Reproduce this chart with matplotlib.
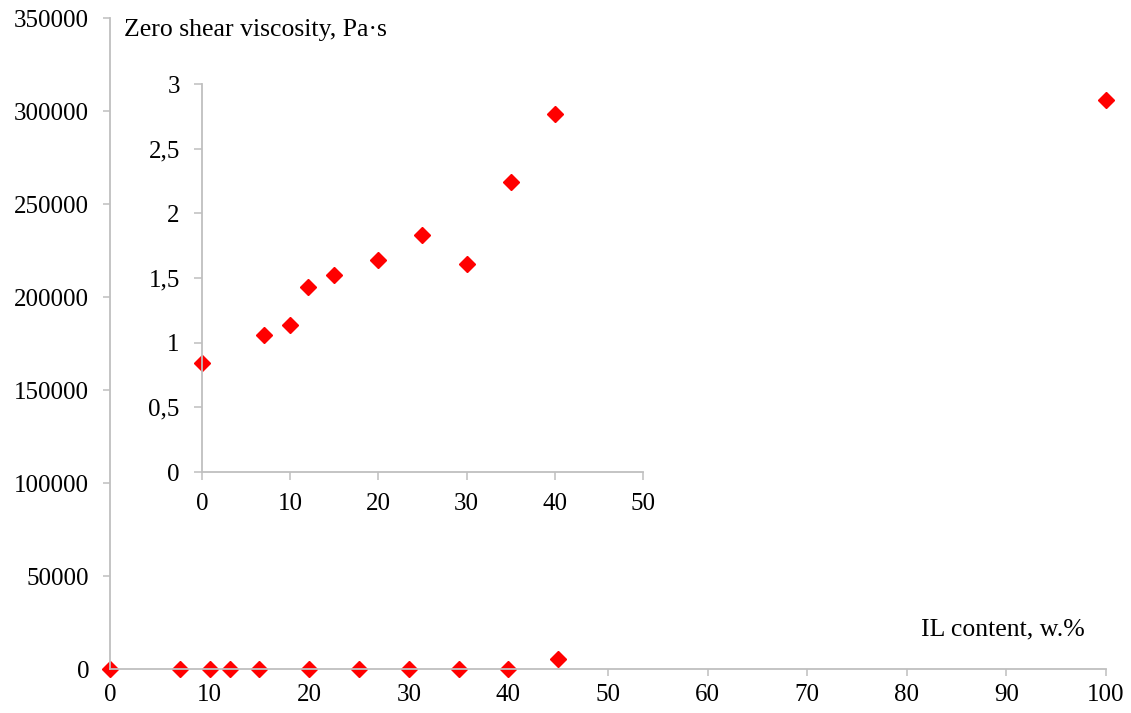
import numpy as np
import matplotlib
matplotlib.use("Agg")
import matplotlib.pyplot as plt
from matplotlib.ticker import FuncFormatter

plt.rcParams["font.family"] = ["Liberation Serif", "DejaVu Serif"]

# data
il_content = [0, 7, 10, 12, 15, 20, 25, 30, 35, 40, 45, 100]
viscosity = [0.84, 1.06, 1.14, 1.43, 1.52, 1.64, 1.83, 1.61, 2.24, 2.77, 5500, 306000]

inset_x = il_content[:10]
inset_y = viscosity[:10]

main_xticks = list(range(0, 101, 10))
main_yticks = list(range(0, 350001, 50000))
inset_xticks = [0, 10, 20, 30, 40, 50]
inset_yticks = [0, 0.5, 1, 1.5, 2, 2.5, 3]

axis_grey = "#bfbfbf"
marker_red = "#ff0000"

fig = plt.figure(figsize=(11.31, 7.13), dpi=100)
ax = fig.add_axes([0.0973, 0.0617, 0.8806, 0.913])


def style_axes(a, xpad, ypad, ticklen):
    for side in ["top", "right"]:
        a.spines[side].set_visible(False)
    for side in ["left", "bottom"]:
        a.spines[side].set_color(axis_grey)
        a.spines[side].set_linewidth(1.3)
    a.tick_params(axis="both", direction="out", length=ticklen, width=1.1,
                  color=axis_grey, labelsize=18, labelcolor="black")
    a.tick_params(axis="x", pad=xpad)
    a.tick_params(axis="y", pad=ypad)


ax.plot(il_content, viscosity, linestyle="none", marker="D", markersize=8.5,
        color=marker_red, clip_on=False)
ax.set_xlim(0, 100)
ax.set_ylim(0, 350000)
ax.set_xticks(main_xticks)
ax.set_yticks(main_yticks)
ax.yaxis.set_major_formatter(FuncFormatter(lambda v, p: f"{int(v)}"))
style_axes(ax, xpad=6, ypad=10, ticklen=5)

fig.text(0.110, 0.958, "Zero shear viscosity, Pa·s", fontsize=18.5, va="center", ha="left")
fig.text(0.959, 0.117, "IL content, w.%", fontsize=18.5, va="center", ha="right")

# inset
ins = fig.add_axes([0.1786, 0.338, 0.3899, 0.544])
ins.plot(inset_x, inset_y, linestyle="none", marker="D", markersize=8.5,
         color=marker_red, clip_on=False)
ins.set_xlim(0, 50)
ins.set_ylim(0, 3)
ins.set_xticks(inset_xticks)
ins.set_yticks(inset_yticks)
ins.yaxis.set_major_formatter(FuncFormatter(lambda v, p: f"{v:g}".replace(".", ",")))
style_axes(ins, xpad=9, ypad=10, ticklen=6)
ins.patch.set_alpha(0)

fig.savefig("out.png", dpi=100)
